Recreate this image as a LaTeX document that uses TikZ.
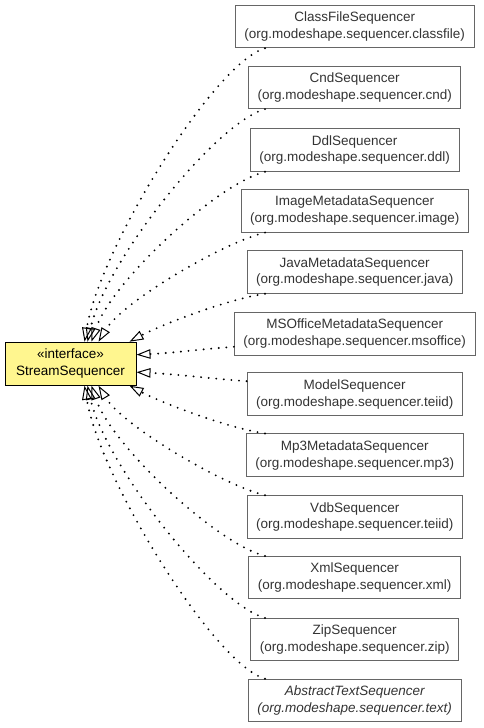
\documentclass[tikz,border=0pt]{standalone}
\usepackage{fontspec}
\setmainfont{Liberation Sans}
\usetikzlibrary{arrows.meta,calc}
\definecolor{ifill}{HTML}{FFF68F}
\definecolor{bgray}{HTML}{666666}
\begin{document}
\begin{tikzpicture}[x=1pt,y=-1pt,
  cls/.style={draw=bgray, line width=1pt, align=center,
    font=\fontsize{13.5}{16.7}\selectfont, inner xsep=9pt, inner ysep=0pt,
    minimum height=42.5pt, text=black!80},
  abs/.style={cls, font=\fontsize{13.5}{16.7}\selectfont\itshape},
  ifacebox/.style={draw=black, fill=ifill, line width=1pt, align=center,
    font=\fontsize{13.5}{16.7}\selectfont, minimum width=131pt,
    minimum height=43pt, inner sep=0pt},
  real/.style={line width=2.1pt, line cap=round, dash pattern=on 0pt off 7.6pt,
    -{Triangle[open,length=14pt,width=9.5pt,line width=1pt]}}
]
\useasboundingbox (0,0) rectangle (483,728);
\coordinate (ax) at (265,0);
\node[ifacebox] (ifc) at (70.5,363.7) {«interface»\\StreamSequencer};
\node[cls] (c1) at (354.7,26.5) {ClassFileSequencer\\(org.modeshape.sequencer.classfile)};
\node[cls] (c2) at (354.7,87.4) {CndSequencer\\(org.modeshape.sequencer.cnd)};
\node[cls] (c3) at (354.7,150) {DdlSequencer\\(org.modeshape.sequencer.ddl)};
\node[cls] (c4) at (354.7,210.8) {ImageMetadataSequencer\\(org.modeshape.sequencer.image)};
\node[cls] (c5) at (354.7,272) {JavaMetadataSequencer\\(org.modeshape.sequencer.java)};
\node[cls] (c6) at (354.7,333.8) {MSOfficeMetadataSequencer\\(org.modeshape.sequencer.msoffice)};
\node[cls] (c7) at (354.7,394.2) {ModelSequencer\\(org.modeshape.sequencer.teiid)};
\node[cls] (c8) at (354.7,455.2) {Mp3MetadataSequencer\\(org.modeshape.sequencer.mp3)};
\node[cls] (c9) at (354.7,517) {VdbSequencer\\(org.modeshape.sequencer.teiid)};
\node[cls] (c10) at (354.7,577.7) {XmlSequencer\\(org.modeshape.sequencer.xml)};
\node[cls] (c11) at (354.7,639.7) {ZipSequencer\\(org.modeshape.sequencer.zip)};
\node[abs] (c12) at (354.7,700.5) {AbstractTextSequencer\\(org.modeshape.sequencer.text)};
% connectors above
\draw[real] (ax |- c1.south) .. controls +(-50,14) and +(16,-95) .. ([xshift=80pt]ifc.north west);
\draw[real] (ax |- c2.south) .. controls +(-50,14) and +(18,-80) .. ([xshift=83pt]ifc.north west);
\draw[real] (ax |- c3.south) .. controls +(-48,12) and +(20,-60) .. ([xshift=87pt]ifc.north west);
\draw[real] (ax |- c4.south) .. controls +(-42,10) and +(24,-40) .. ([xshift=94pt]ifc.north west);
\draw[real] (ax |- c5.south) .. controls +(-40,6) and +(30,-16) .. ([xshift=125pt]ifc.north west);
\draw[real] ([yshift=-13pt]c6.west) .. controls +(-40,3) and +(40,-2) .. ([yshift=9pt]ifc.east);
% connectors below
\draw[real] ([yshift=13pt]c7.west) .. controls +(-40,-3) and +(40,2) .. ([yshift=-8.5pt]ifc.east);
\draw[real] (ax |- c8.north) .. controls +(-40,-6) and +(30,16) .. ([xshift=125pt]ifc.south west);
\draw[real] (ax |- c9.north) .. controls +(-42,-10) and +(24,40) .. ([xshift=94pt]ifc.south west);
\draw[real] (ax |- c10.north) .. controls +(-48,-12) and +(20,60) .. ([xshift=87pt]ifc.south west);
\draw[real] (ax |- c11.north) .. controls +(-50,-14) and +(18,80) .. ([xshift=83pt]ifc.south west);
\draw[real] (ax |- c12.north) .. controls +(-50,-14) and +(16,95) .. ([xshift=80pt]ifc.south west);
\end{tikzpicture}
\end{document}
